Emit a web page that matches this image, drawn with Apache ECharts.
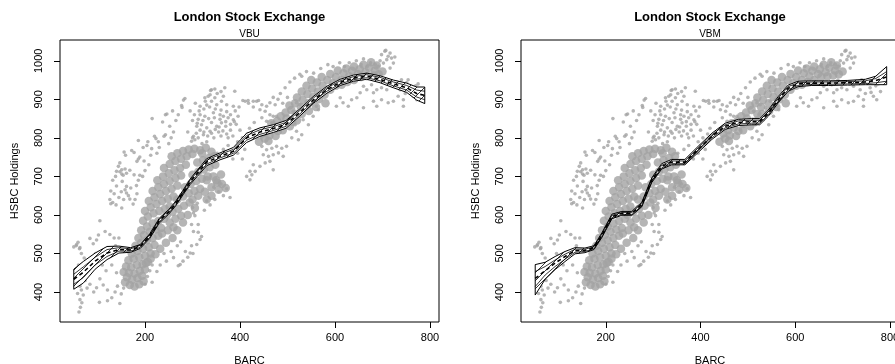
<!DOCTYPE html>
<html><head><meta charset="utf-8">
<script src="https://cdn.jsdelivr.net/npm/echarts@6/dist/echarts.min.js"></script>
<style>html,body{margin:0;padding:0;background:#fff;overflow:hidden;width:895px;height:364px}#c{width:904px;height:364px}</style>
</head><body><div id="c"></div>
<script>
// ---- tick labels ----
const xTicks = [200, 400, 600, 800];
const yTicks = [400, 500, 600, 700, 800, 900, 1000];
const panelTitles = ['VBU', 'VBM'];

// ---- scattered observations (BARC, HSBC) ----
const obsSparse = [
[50,517],[59,529],[55,520],[62,512],[66,500],[72,488],[60,470],[68,445],[74,430],[63,415],[58,396],[66,405],[63,380],[67,372],[61,348],[64,360],[70,392],[78,410],[84,420],[80,447],[88,471],[92,400],[104,373],[121,377],[147,370],[137,400],[121,405],[112,418],[105,434],[98,411],[130,385],[142,415],[96,500],[102,548],[84,539],[91,525],[98,535],[105,585],[116,557],[126,549],[135,540],[56,523],[63,515],[110,470],[118,455],[130,470],[140,450],[128,498],[138,520],[145,540],[150,395],[155,410],
[126,640],[132,632],[128,629],[139,626],[151,618],[145,645],[150,660],[155,640],[161,657],[168,641],[179,640],[182,676],[152,687],[161,674],[140,675],[170,670],[165,650],[175,628],[183,655],[158,665],[135,655],[128,662],[140,713],[147,712],[151,706],[161,708],[177,704],[189,703],[154,703],[147,735],[144,726],[151,717],[158,719],[168,716],[189,750],[186,745],[183,739],[172,767],[156,763],[177,762],[159,755],[196,775],[214,772],[206,790],[204,780],[186,793],[220,804],[223,798],[243,808],[240,804],[237,841],[215,850],[243,860],[246,862],[278,879],[284,902],[281,898],[277,884],[132,690],[138,700],[186,690],[195,700],[200,715],[208,730],[198,740],[212,755],[225,760],[230,775],[228,790],[250,785],[255,800],[260,815],[252,830],[265,845],[258,870],[270,860],
[368,930],[389,921],[340,925],[337,912],[326,904],[347,904],[365,908],[361,895],[351,886],[372,886],[386,882],[316,860],[326,856],[344,865],[358,860],[365,856],[375,852],[386,847],[396,856],[309,830],[319,834],[330,826],[337,817],[351,830],[361,839],[302,804],[312,800],[323,808],[298,791],[305,795],[338,923],[347,927],[333,908],[316,882],[327,895],[300,845],[312,848],[340,840],[355,815],[370,830],[380,820],[392,835],[345,800],[360,805],[375,800],[330,790],[320,785],[290,815],[295,870],[306,890],
[300,800],[308,812],[316,820],[324,815],[332,805],[340,812],[348,822],[356,828],[364,818],[372,810],[380,835],[388,842],[310,838],[322,845],[334,850],[346,852],[358,848],[370,842],[304,860],[314,870],[324,875],[336,880],[348,875],[360,872],[372,868],[380,860],[390,870],[398,880],[352,915],[360,920],[330,885],[340,895],
[406,897],[418,890],[435,895],[442,873],[428,880],
[411,895],[417,897],[428,895],[439,897],[446,886],[456,882],[463,891],[474,886],[453,869],[463,860],[470,856],[477,856],[446,852],[456,843],[467,839],[477,834],[484,821],
[519,891],[526,886],[537,878],[547,895],[558,899],[561,882],[512,869],[523,860],[533,847],[544,834],[554,856],[565,873],[505,847],[516,834],[519,817],[530,808],[509,800],[523,795],
[446,778],[456,769],[467,773],[477,778],[488,773],[498,778],[449,756],[460,752],[470,756],[481,761],[491,752],[463,739],[453,735],[442,726],[428,730],[432,713],[421,713],[425,704],[470,717],[414,700],[421,691],[400,780],[410,770],[395,760],[385,745],[405,745],
[302,605],[305,598],[298,575],[312,575],[302,557],[312,555],[319,544],[316,536],[309,523],[298,520],[295,501],[301,500],[379,645],[347,640],[330,636],[337,626],[300,619],[310,630],[355,660],[365,650],[372,668],[360,680],[345,672],[325,612],[290,490],[285,505],[280,480],[270,468],[275,530],
[225,453],[232,470],[245,480],[260,489],[274,471],[255,505],[268,520],[240,500],[215,470],[210,455],[205,440],[215,425],[200,420],
[698,1016],[705,1025],[716,1020],[719,1007],[709,1003],[702,994],[723,994],[691,986],[716,981],[707,1027],[726,1010],[712,1012],[695,1000],[685,990],[675,995],[668,985],
[677,938],[688,925],[698,930],[709,925],[723,934],[737,925],[751,943],[758,930],[733,908],[744,899],[723,895],[712,891],[698,899],[688,882],[681,895],[765,908],[772,899],[744,882],[754,951],[740,951],[681,917],[667,925],[660,934],[653,917],[646,904],[635,899],[628,882],[617,891],[611,904],[603,882],[660,878],[770,935],[780,920],[760,918],[748,915],[730,945],[715,940],[700,945],[690,950],[775,940],
[526,965],[540,972],[555,968],[570,980],[585,990],[596,985],[610,995],[620,985],[630,995],[645,1000],[655,990],[660,1005],[515,955],[530,960],[505,945],[495,930],[485,915],[480,900],[470,905],[490,890],[500,905],
[395,790],[405,800],[415,810],[425,805],[435,815],[445,800],[420,825],[430,840],[400,820],[385,805],[375,780],[365,770],[352,760]
];
const obsDense = [
[158,425],[168,418],[178,414],[188,420],[197,428],[162,438],[173,432],[184,436],[194,442],[155,452],[166,450],[178,448],[189,455],[200,458],[160,466],[171,464],[183,470],[195,472],[206,478],[165,482],[176,486],[188,490],[200,494],[212,500],[172,500],[184,506],[196,512],[208,516],[220,522],[180,520],[192,528],[204,534],[216,540],[228,546],[186,540],[198,548],[210,556],[222,562],[234,566],[192,560],[204,570],[216,578],[228,584],[240,590],
[196,585],[206,596],[218,604],[230,610],[242,616],[252,622],[200,610],[212,620],[224,628],[236,636],[248,642],[260,648],[208,636],[220,646],[232,654],[244,662],[256,668],[268,676],[216,662],[228,672],[240,680],[252,688],[264,696],[276,702],[226,690],[238,700],[250,708],[262,716],[274,722],[286,730],[240,722],[252,732],[264,740],[276,746],[288,752],[300,758],[256,752],[268,760],[280,766],[292,770],[304,772],[316,768],[328,774],
[236,552],[248,560],[260,568],[252,580],[264,590],[276,598],[246,600],[258,608],[270,616],[282,624],[294,632],[268,640],[280,648],[292,656],[304,662],[316,668],[284,672],[296,680],[308,688],[320,694],[332,700],[300,704],[312,712],[324,718],[336,724],[348,730],[310,736],[322,742],[334,748],[346,752],[320,760],[340,764],
[300,640],[312,650],[326,660],[340,672],[352,684],[330,690],[344,700],[360,705],[305,618],[290,600],[280,580],[268,560],[258,540],[244,528],[232,512],[222,498],[212,486],[202,475],
[350,690],[362,680],[370,670],[340,650],[330,640],[355,665],
[440,790],[452,798],[462,806],[448,812],[458,820],[470,826],[480,818],[466,838],[478,844],[490,836],[486,856],[498,850],[510,842],[496,866],[508,872],[520,862],[504,884],[516,890],[528,880],[520,905],[532,898],[544,890],[530,920],[542,914],[554,906],[540,935],[552,928],[564,920],[550,950],[562,944],[574,936],[572,958],[584,950],[596,942],[590,966],[602,958],[614,950],[606,975],[618,968],[630,960],[624,980],[636,974],[648,966],[640,985],[652,978],[664,970],[660,990],[672,982],[684,975],[676,996],[688,988],[566,900],[578,912],[590,925],[602,935],[614,938],[580,890],[560,880],[545,870],[530,862],[520,845],[505,830],[490,820],[475,805],[460,792],[626,945],[640,950],[655,958],[668,960],[680,962],[692,965],[700,972]
];

// ---- VBU fit (left panel) ----
const vbuX       = [50,70,95,120,145,170,190,210,230,250,265,280,295,310,330,358,386,414,442,470,497,526,554,583,611,639,667,695,723,751,772,789];
const vbuFit     = [433,451,480,501,510,509,518,545,585,608,630,658,686,708,737,752,765,800,815,824,835,866,898,925,944,955,960,952,940,930,915,910];
const vbuUpper   = [459,479,501,518,519,515,523,551,591,614,636,664,693,716,746,761,775,812,826,834,845,875,907,934,952,963,968,961,950,942,932,932];
const vbuLower   = [407,423,459,484,501,503,513,539,579,602,624,652,679,700,728,743,755,788,804,814,825,857,889,916,936,947,952,943,930,918,898,889];
const vbuInnerUp = [446,465,490,510,515,512,521,548,588,611,633,661,690,712,742,757,770,806,821,829,840,871,903,930,948,959,964,957,945,936,924,921];
const vbuInnerLo = [420,437,470,492,506,506,516,542,582,605,627,655,683,704,732,748,760,794,809,819,830,862,894,921,940,951,956,948,935,924,906,899];

// ---- VBM fit (right panel) ----
const vbmX       = [51,72,93,114,135,156,175,192,213,234,255,276,297,318,339,367,395,424,452,480,508,525,543,564,585,606,635,670,710,748,770,793];
const vbmFit     = [435,455,475,492,507,508,515,548,596,604,604,627,690,726,737,737,770,804,830,840,842,842,864,899,929,940,942,942,943,945,949,958];
const vbmUpper   = [471,477,492,505,515,514,520,554,602,609,609,633,696,733,744,744,778,812,838,848,850,850,872,907,937,947,948,948,949,952,960,985];
const vbmLower   = [392,433,458,479,499,502,510,542,590,599,599,621,684,719,730,730,762,796,822,832,834,834,856,891,921,933,936,936,937,938,938,938];
const vbmInnerUp = [453,466,483,498,511,511,517,551,599,606,606,630,693,729,740,740,774,808,834,844,846,846,868,903,933,943,945,945,946,948,954,972];
const vbmInnerLo = [414,444,466,485,503,505,512,545,593,601,601,624,687,722,733,733,766,800,826,836,838,838,860,895,925,936,939,939,940,941,943,947];

const FONT = '"Liberation Sans", Arial, Helvetica, sans-serif';
const GREY = '#a3a3a3';

function hatchCanvas(){
  const c = document.createElement('canvas'); c.width = 8; c.height = 8;
  const g = c.getContext('2d');
  g.fillStyle = '#fff'; g.fillRect(0,0,8,8);
  g.strokeStyle = '#000'; g.lineWidth = 0.8;
  g.beginPath();
  g.moveTo(0,8); g.lineTo(8,0);
  g.moveTo(-2,2); g.lineTo(2,-2);
  g.moveTo(6,10); g.lineTo(10,6);
  g.stroke();
  return c;
}
const pat = hatchCanvas();

function pairs(X, Y){ return X.map((x,i)=>[x, Y[i]]); }

const fits = [
  {X: vbuX, F: vbuFit, U: vbuUpper, L: vbuLower, IU: vbuInnerUp, IL: vbuInnerLo},
  {X: vbmX, F: vbmFit, U: vbmUpper, L: vbmLower, IU: vbmInnerUp, IL: vbmInnerLo}
];
const grids = [
  {left: 60, top: 40, width: 379, height: 282},
  {left: 521, top: 40, width: 378, height: 282}
];
const centers = [249.5, 710];

const option = {
  animation: false,
  backgroundColor: '#fff',
  title: [],
  grid: grids.map(g => Object.assign({show: true, borderColor: '#000', borderWidth: 1,
    backgroundColor: 'transparent', containLabel: false, outerBoundsMode: 'none'}, g)),
  xAxis: [], yAxis: [], series: []
};

for (let p = 0; p < 2; p++) {
  option.title.push({text: 'London Stock Exchange', left: centers[p], top: 11, padding: 0, textAlign: 'center',
    textStyle: {fontFamily: FONT, fontSize: 13, fontWeight: 'bold', color: '#000'}});
  option.title.push({text: panelTitles[p], left: centers[p], top: 29, padding: 0, textAlign: 'center',
    textStyle: {fontFamily: FONT, fontSize: 10, fontWeight: 'normal', color: '#000'}});
  option.xAxis.push({
    type: 'value', gridIndex: p, min: 21, max: 819,
    name: 'BARC', nameLocation: 'middle', nameGap: 33,
    nameTextStyle: {fontFamily: FONT, fontSize: 11, color: '#000', verticalAlign: 'top'},
    axisLine: {show: false}, splitLine: {show: false},
    axisTick: {show: true, length: 6, lineStyle: {color: '#000'}, customValues: xTicks},
    axisLabel: {fontFamily: FONT, fontSize: 11, color: '#000', margin: 10, customValues: xTicks,
      formatter: v => String(v)}
  });
  option.yAxis.push({
    type: 'value', gridIndex: p, min: 322, max: 1054,
    name: 'HSBC Holdings', nameLocation: 'middle', nameGap: 40,
    nameTextStyle: {fontFamily: FONT, fontSize: 11, color: '#000'},
    axisLine: {show: false}, splitLine: {show: false},
    axisTick: {show: true, length: 6, lineStyle: {color: '#000'}, customValues: yTicks},
    axisLabel: {fontFamily: FONT, fontSize: 11, color: '#000', margin: 16, rotate: 90, customValues: yTicks,
      formatter: v => String(v)}
  });
  option.series.push({type: 'scatter', xAxisIndex: p, yAxisIndex: p, data: obsDense, symbolSize: 8.5,
    itemStyle: {color: GREY}, silent: true, z: 1});
  option.series.push({type: 'scatter', xAxisIndex: p, yAxisIndex: p, data: obsSparse, symbolSize: 3.6,
    itemStyle: {color: GREY}, silent: true, z: 1});
  const f = fits[p];
  option.series.push({
    type: 'custom', xAxisIndex: p, yAxisIndex: p, silent: true, z: 3,
    data: [[f.X[0], f.F[0]]],
    renderItem: function(params, api){
      const pts = [];
      for (let i = 0; i < f.X.length; i++) pts.push(api.coord([f.X[i], f.U[i]]));
      for (let i = f.X.length - 1; i >= 0; i--) pts.push(api.coord([f.X[i], f.L[i]]));
      return {type: 'polygon', shape: {points: pts},
        style: {fill: {image: pat, repeat: 'repeat'}, stroke: '#000', lineWidth: 1}};
    }
  });
  [[f.IU, 0.8], [f.IL, 0.8]].forEach(([arr, w]) => {
    option.series.push({type: 'line', xAxisIndex: p, yAxisIndex: p, data: pairs(f.X, arr), showSymbol: false,
      silent: true, z: 4, lineStyle: {color: '#000', width: w}});
  });
  option.series.push({type: 'line', xAxisIndex: p, yAxisIndex: p, data: pairs(f.X, f.F), showSymbol: false,
    silent: true, z: 5, lineStyle: {color: '#000', width: 1.6, type: [4, 3]}});
}

const chart = echarts.init(document.getElementById('c'), null, {renderer: 'canvas'});
chart.setOption(option);
</script></body></html>
